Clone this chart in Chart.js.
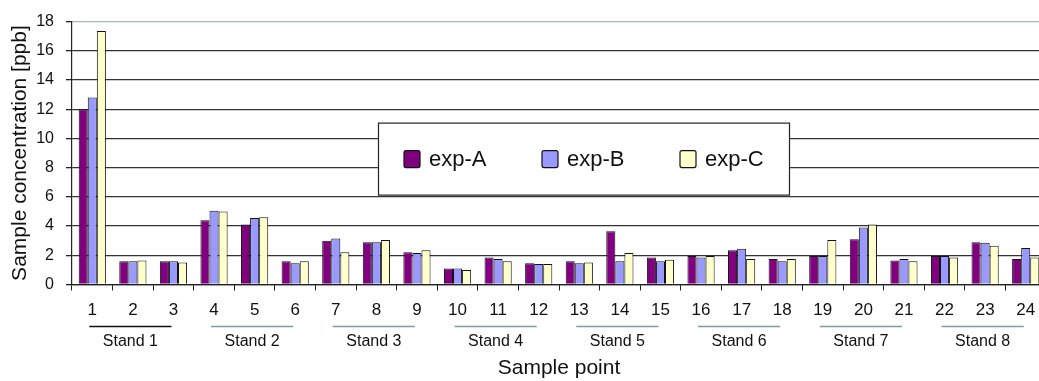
<!DOCTYPE html>
<html lang="en">
<head>
<meta charset="UTF-8">
<title>Sample concentration</title>
<script src="https://cdn.jsdelivr.net/npm/chart.js"></script>
<style>
  html, body { margin: 0; padding: 0; background: #fff; overflow: hidden; }
  #wrap { width: 1048px; height: 381px; }
</style>
</head>
<body>
<div id="wrap"><canvas id="chart" width="1048" height="381"></canvas></div>
<script>
// sample points 1..24, three per stand
const samplePoints = ['1','2','3','4','5','6','7','8','9','10','11','12',
                      '13','14','15','16','17','18','19','20','21','22','23','24'];
const stands = ['Stand 1','Stand 2','Stand 3','Stand 4','Stand 5','Stand 6','Stand 7','Stand 8'];
const expA = [12.0, 1.6, 1.6, 4.4, 4.1, 1.6, 3.0, 2.9, 2.2, 1.1, 1.85, 1.45,
              1.6, 3.65, 1.85, 1.95, 2.35, 1.75, 1.95, 3.1, 1.65, 1.95, 2.9, 1.75];
const expB = [12.8, 1.6, 1.6, 5.05, 4.55, 1.45, 3.15, 2.9, 2.15, 1.1, 1.75, 1.4,
              1.45, 1.6, 1.6, 1.85, 2.45, 1.6, 1.95, 3.9, 1.75, 1.95, 2.85, 2.5];
const expC = [17.35, 1.65, 1.5, 5.0, 4.6, 1.6, 2.2, 3.05, 2.35, 1.0, 1.6, 1.4,
              1.5, 2.15, 1.7, 1.95, 1.75, 1.75, 3.05, 4.1, 1.6, 1.85, 2.65, 1.85];
const yTicks = [0, 2, 4, 6, 8, 10, 12, 14, 16, 18];

const FONT = "'Liberation Sans', Arial, sans-serif";

// legend box drawn inside the plot, plus the stand brackets under the x labels
const extras = {
  id: 'extras',
  afterDraw(chart) {
    const ctx = chart.ctx;
    const x = chart.scales.x;
    const area = chart.chartArea;

    // stands
    ctx.save();
    ctx.font = '16px ' + FONT;
    ctx.textAlign = 'center';
    ctx.textBaseline = 'middle';
    stands.forEach((name, i) => {
      const x1 = x.getPixelForValue(i * 3) - 3;
      const x2 = x.getPixelForValue(i * 3 + 2) - 2;
      ctx.strokeStyle = i === 0 ? '#111' : '#7f9c9c';
      ctx.lineWidth = 1.6;
      ctx.beginPath();
      ctx.moveTo(x1, x.top + 42);
      ctx.lineTo(x2, x.top + 42);
      ctx.stroke();
      ctx.fillStyle = '#111';
      ctx.fillText(name, (x1 + x2) / 2, x.top + 57);
    });
    ctx.restore();

    // legend
    const bx = area.left + 306, by = area.top + 101, bw = 411, bh = 72;
    ctx.save();
    ctx.fillStyle = '#fff';
    ctx.fillRect(bx, by, bw, bh);
    ctx.strokeStyle = '#222';
    ctx.lineWidth = 1.2;
    ctx.strokeRect(bx + 0.5, by + 0.5, bw, bh);
    ctx.font = '22px ' + FONT;
    ctx.textBaseline = 'middle';
    ctx.textAlign = 'left';
    chart.data.datasets.forEach((ds, i) => {
      const sx = bx + 26 + i * 138;
      const sy = by + 28;
      ctx.fillStyle = ds.backgroundColor;
      ctx.strokeStyle = '#111';
      ctx.lineWidth = 1.2;
      ctx.beginPath();
      ctx.roundRect(sx, sy, 16, 17, 2);
      ctx.fill();
      ctx.stroke();
      ctx.fillStyle = '#111';
      ctx.fillText(ds.label, sx + 25, sy + 9);
    });
    ctx.restore();
  }
};

new Chart(document.getElementById('chart'), {
  type: 'bar',
  data: {
    labels: samplePoints,
    datasets: [
      { label: 'exp-A', data: expA, backgroundColor: '#800080', borderColor: '#111', borderWidth: 1 },
      { label: 'exp-B', data: expB, backgroundColor: '#9999ff', borderColor: '#111', borderWidth: 1 },
      { label: 'exp-C', data: expC, backgroundColor: '#ffffcc', borderColor: '#111', borderWidth: 1 }
    ]
  },
  options: {
    responsive: false,
    animation: false,
    layout: { padding: { top: 16, right: 2, left: 0, bottom: 0 } },
    datasets: { bar: { categoryPercentage: 0.67, barPercentage: 1.0 } },
    plugins: { legend: { display: false }, tooltip: { enabled: false } },
    scales: {
      x: {
        grid: { drawOnChartArea: false, drawTicks: true, tickLength: 6, color: '#222', offset: true },
        border: { color: '#222', width: 1.2 },
        ticks: { color: '#111', font: { family: FONT, size: 17 }, padding: 10, maxRotation: 0, autoSkip: false },
        title: { display: true, text: 'Sample point', color: '#111', font: { family: FONT, size: 21 }, padding: { top: 0, bottom: 0 } },
        afterFit(scale) { scale.height = 96.5; }
      },
      y: {
        min: 0,
        max: 18,
        afterBuildTicks(scale) { scale.ticks = yTicks.map(v => ({ value: v })); },
        grid: {
          color: ctx => ctx.tick && ctx.tick.value === 18 ? '#a8b8bc' : '#333',
          lineWidth: 1.3,
          tickLength: 6,
          tickColor: '#222'
        },
        border: { color: '#222', width: 1.2 },
        ticks: { color: '#111', font: { family: FONT, size: 16 }, padding: 12 },
        title: { display: true, text: 'Sample concentration [ppb]', color: '#111', font: { family: FONT, size: 21 }, padding: { top: 8, bottom: 0 } },
        afterFit(scale) { scale.width = 72; }
      }
    }
  },
  plugins: [extras]
});
</script>
</body>
</html>
